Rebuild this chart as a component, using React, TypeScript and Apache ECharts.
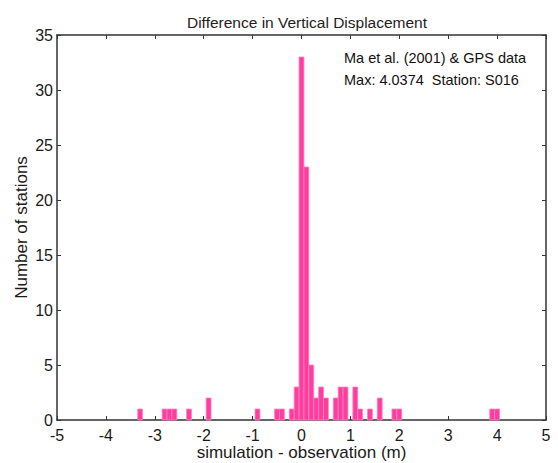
import React, { useEffect, useRef } from "react";
import * as echarts from "echarts";

const binCenters = [-3.3, -2.8, -2.7, -2.6, -2.3, -1.9, -0.9, -0.5, -0.4, -0.2, -0.1, 0.0, 0.1, 0.2, 0.3, 0.4, 0.5, 0.7, 0.8, 0.9, 1.1, 1.2, 1.4, 1.6, 1.9, 2.0, 3.9, 4.0];
const counts = [1, 1, 1, 1, 1, 2, 1, 1, 1, 1, 3, 33, 23, 5, 2, 3, 2, 2, 3, 3, 3, 1, 1, 2, 1, 1, 1, 1];
const binWidth = 0.1;
const titleText = "Difference in Vertical Displacement";
const xLabel = "simulation - observation (m)";
const yLabel = "Number of stations";
const note1 = "Ma et al. (2001) & GPS data";
const note2 = "Max: 4.0374  Station: S016";

export default function App() {
  const ref = useRef<HTMLDivElement>(null);
  useEffect(() => {
    if (!ref.current) return;
    const chart = echarts.init(ref.current, null, { renderer: "svg" });
    const font = "Liberation Sans, Arial, sans-serif";
    const axisColor = "#333";
    const textColor = "#1a1a1a";
    const data = binCenters.map((c, i) => [c, counts[i]]);
    const commonAxis = {
      axisLine: { show: true, onZero: false, lineStyle: { color: axisColor, width: 1.5 } },
      axisTick: { show: true, inside: true, length: 4, lineStyle: { color: axisColor } },
      splitLine: { show: false },
    };
    chart.setOption({
      animation: false,
      backgroundColor: "#fff",
      title: {
        text: titleText,
        left: 302,
        top: 9,
        textAlign: "center",
        textStyle: { fontFamily: font, fontSize: 15.5, fontWeight: "normal", color: "#222" },
      },
      grid: { left: 57, right: 12, top: 35, bottom: 43, outerBoundsMode: "none", containLabel: false },
      xAxis: [
        {
          type: "value",
          min: -5,
          max: 5,
          interval: 1,
          position: "bottom",
          name: xLabel,
          nameLocation: "middle",
          nameGap: 24,
          nameMoveOverlap: false,
          nameTextStyle: { fontFamily: font, fontSize: 17, color: textColor },
          ...commonAxis,
          axisLabel: { fontFamily: font, fontSize: 16, color: textColor, margin: 7 },
        },
        {
          type: "value",
          min: -5,
          max: 5,
          interval: 1,
          position: "top",
          ...commonAxis,
          axisLabel: { show: false },
        },
      ],
      yAxis: [
        {
          type: "value",
          min: 0,
          max: 35,
          interval: 5,
          position: "left",
          name: yLabel,
          nameLocation: "middle",
          nameGap: 27,
          nameMoveOverlap: false,
          nameTextStyle: { fontFamily: font, fontSize: 17, color: textColor },
          ...commonAxis,
          axisLabel: { fontFamily: font, fontSize: 16, color: textColor, margin: 4 },
        },
        {
          type: "value",
          min: 0,
          max: 35,
          interval: 5,
          position: "right",
          ...commonAxis,
          axisLabel: { show: false },
        },
      ],
      graphic: [
        {
          type: "text",
          left: 344,
          top: 50,
          style: { text: note1, fontFamily: font, fontSize: 14.5, fill: "#111" },
        },
        {
          type: "text",
          left: 344,
          top: 72,
          style: { text: note2, fontFamily: font, fontSize: 14.5, fill: "#111" },
        },
      ],
      series: [
        {
          type: "custom",
          xAxisIndex: 0,
          yAxisIndex: 0,
          data,
          renderItem: (params: any, api: any) => {
            const x = api.value(0);
            const h = api.value(1);
            const p0 = api.coord([x - binWidth / 2, h]);
            const p1 = api.coord([x + binWidth / 2, 0]);
            return {
              type: "rect",
              shape: { x: p0[0], y: p0[1], width: p1[0] - p0[0], height: p1[1] - p0[1] },
              style: { fill: "#ff3d9e", stroke: "#ff85c2", lineWidth: 0.8 },
            };
          },
        },
      ],
    });
    return () => chart.dispose();
  }, []);
  return (
    <div
      ref={ref}
      style={{ position: "absolute", left: 0, top: 0, width: 558, height: 463 }}
    />
  );
}
